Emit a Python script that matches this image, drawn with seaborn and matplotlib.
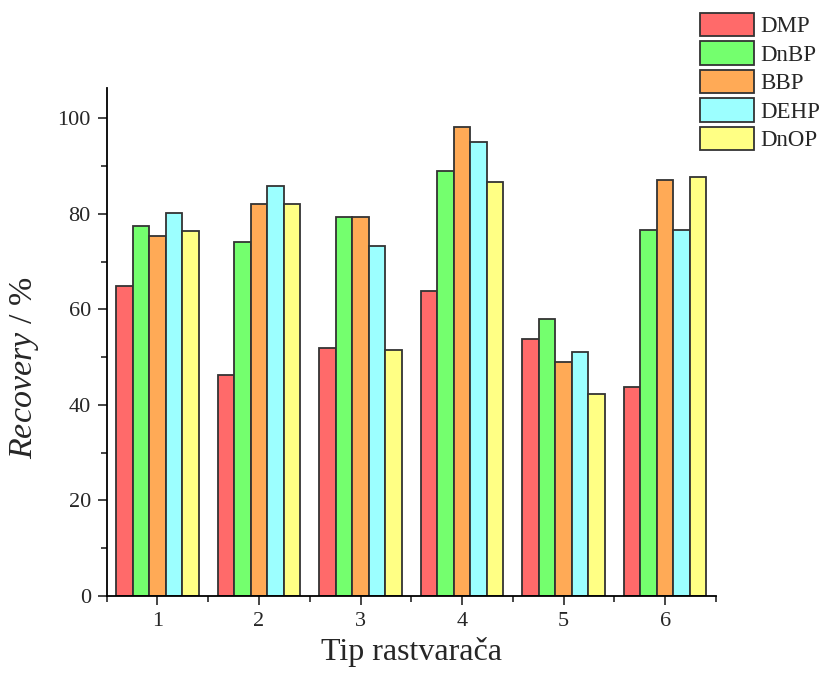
import numpy as np
import pandas as pd
import matplotlib
matplotlib.use("Agg")
import matplotlib.pyplot as plt
import seaborn as sns
from matplotlib.ticker import MultipleLocator, FixedLocator

# datos
tipos = ["1", "2", "3", "4", "5", "6"]
ftalatos = ["DMP", "DnBP", "BBP", "DEHP", "DnOP"]
dmp = [65.0, 46.2, 52.0, 63.8, 53.9, 43.8]
dnbp = [77.5, 74.2, 79.3, 88.9, 58.1, 76.6]
bbp = [75.3, 82.0, 79.3, 98.2, 49.0, 87.2]
dehp = [80.2, 85.9, 73.3, 95.0, 51.1, 76.6]
dnop = [76.4, 82.1, 51.6, 86.7, 42.2, 87.8]
colores = ["#FF6A6A", "#74FF6E", "#FFAA56", "#9CFFFF", "#FFFF84"]

df = pd.DataFrame({"tipo": tipos * 5,
                   "ftalato": np.repeat(ftalatos, 6),
                   "recovery": dmp + dnbp + bbp + dehp + dnop})

sns.set_style("ticks")
plt.rcParams["font.family"] = ["Liberation Serif", "DejaVu Serif"]
plt.rcParams["mathtext.fontset"] = "custom"
plt.rcParams["mathtext.rm"] = "Liberation Serif"
plt.rcParams["mathtext.it"] = "Liberation Serif:italic"

fig = plt.figure(figsize=(8.21, 6.76), dpi=100)
ax = fig.add_axes([0.13, 0.1183, 0.742, 0.7511])

sns.barplot(data=df, x="tipo", y="recovery", hue="ftalato", palette=colores,
            width=0.81, edgecolor="#333333", linewidth=1.3, saturation=1,
            errorbar=None, ax=ax)

ax.set_xlim(-0.5, 5.5)
ax.set_ylim(0, 106.3)
ax.yaxis.set_major_locator(MultipleLocator(20))
ax.yaxis.set_minor_locator(MultipleLocator(10))
ax.xaxis.set_minor_locator(FixedLocator(np.arange(-0.5, 5.6, 1)))
ax.tick_params(axis="both", which="major", direction="out", length=6.5, width=1.2,
               labelsize=16, pad=5)
ax.tick_params(axis="both", which="minor", direction="out", length=4.3, width=1.2)
sns.despine(ax=ax)
for s in ["left", "bottom"]:
    ax.spines[s].set_linewidth(1.3)
    ax.spines[s].set_color("black")

ax.set_xlabel("Tip rastvarača", fontsize=23, labelpad=4)
ax.set_ylabel(r"$\mathit{Recovery}$ / %", fontsize=24.5)
ax.yaxis.set_label_coords(-0.108, 0.45)

handles, labels = ax.get_legend_handles_labels()
ax.legend(handles, labels, loc="upper left", bbox_to_anchor=(700 / 821, 1 - 13 / 676),
          bbox_transform=fig.transFigure, frameon=False, fontsize=16.5,
          handlelength=2.35, handleheight=1.2, labelspacing=0.17,
          handletextpad=0.3, borderpad=0, borderaxespad=0)

fig.savefig("out.png", dpi=100)
